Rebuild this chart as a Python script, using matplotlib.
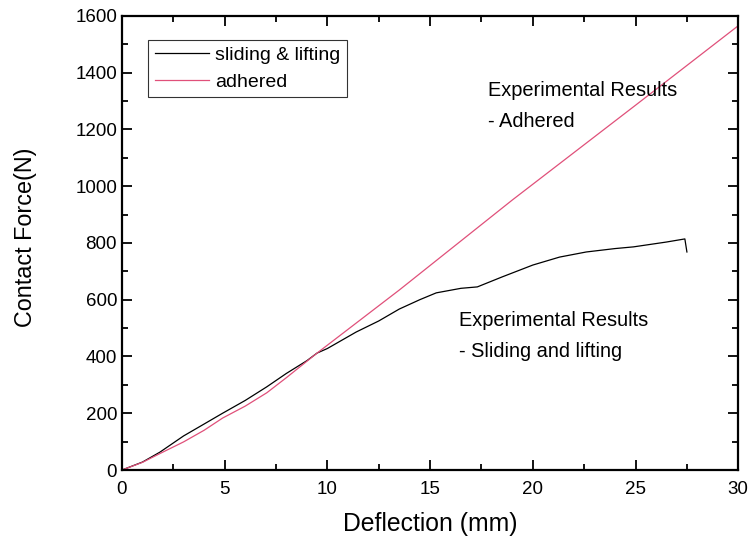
import matplotlib.pyplot as plt
from matplotlib.ticker import MultipleLocator

plt.rcParams['font.family'] = ['Liberation Sans', 'DejaVu Sans']

# sliding & lifting (black)
slide_x = [0, 1, 1.85, 3, 4, 4.9, 6, 7.05, 8, 9, 9.5, 10, 11.4, 12.5, 13.5, 14.5,
           15.3, 16.5, 17.3, 18.5, 20, 21.3, 22.6, 24, 24.9, 26.5, 27.4, 27.5]
slide_y = [0, 28, 63, 120, 162, 200, 245, 293, 340, 385, 412, 428, 486, 525, 567, 600,
           624, 640, 645, 680, 722, 750, 768, 780, 786, 803, 814, 768]

# adhered (red)
adh_x = [0, 1, 1.85, 3, 4, 4.9, 6, 7.05, 8, 9.5, 13.5, 19, 25, 30]
adh_y = [0, 27, 58, 99, 140, 183, 225, 272, 325, 412, 634, 951, 1285, 1565]

fig = plt.figure(figsize=(7.48, 5.44), dpi=100)
ax = fig.add_axes([0.163, 0.136, 0.824, 0.835])

ax.plot(slide_x, slide_y, color='black', lw=0.9, label='sliding & lifting')
ax.plot(adh_x, adh_y, color='#e0507a', lw=0.9, label='adhered')

ax.set_xlim(0, 30)
ax.set_ylim(0, 1600)
ax.xaxis.set_major_locator(MultipleLocator(5))
ax.xaxis.set_minor_locator(MultipleLocator(2.5))
ax.yaxis.set_major_locator(MultipleLocator(200))
ax.yaxis.set_minor_locator(MultipleLocator(100))
ax.tick_params(which='both', direction='in', top=True, right=True, labelsize=13.5, width=1.3)
ax.tick_params(which='major', length=7)
ax.tick_params(which='minor', length=4)
ax.tick_params(axis='x', pad=8)
for s in ax.spines.values():
    s.set_linewidth(1.6)

ax.set_xlabel('Deflection (mm)', fontsize=17.8, labelpad=10)
ax.set_ylabel('Contact Force(N)', fontsize=16.8)
ax.yaxis.set_label_coords(-0.138, 0.513)

ax.text(17.8, 1370, 'Experimental Results\n- Adhered', fontsize=14.4,
        linespacing=1.8, va='top')
ax.text(16.4, 560, 'Experimental Results\n- Sliding and lifting', fontsize=14.4,
        linespacing=1.8, va='top')

leg = ax.legend(loc='upper left', bbox_to_anchor=(0.042, 0.947), fontsize=14,
                frameon=True, fancybox=False, edgecolor='black', handlelength=2.8,
                borderpad=0.35, labelspacing=0.45, handletextpad=0.3, borderaxespad=0)
leg.get_frame().set_linewidth(0.8)

fig.savefig('out.png', dpi=100)
